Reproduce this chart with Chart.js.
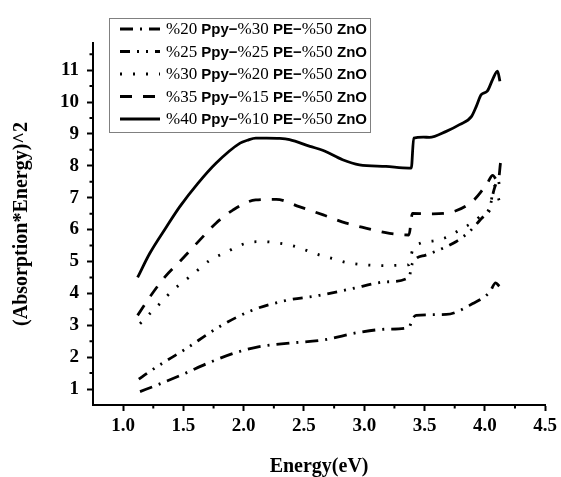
<!DOCTYPE html>
<html>
<head>
<meta charset="utf-8">
<script src="https://cdn.jsdelivr.net/npm/chart.js@4.4.1/dist/chart.umd.min.js"></script>
<style>
  body { margin: 0; background: #fff; }
  #wrap { width: 561px; height: 477px; }
</style>
</head>
<body>
<div id="wrap"><canvas id="bandGapChart" width="561" height="477"></canvas></div>
<script>
// series (energy in eV, (absorption*energy)^2)
const energy20 = [1.14, 1.29, 1.50, 1.72, 1.94, 2.13, 2.38, 2.66, 2.96, 3.20, 3.37, 3.40, 3.43, 3.68, 3.90, 4.04, 4.09, 4.12];
const abs20 = [0.92, 1.14, 1.47, 1.84, 2.15, 2.33, 2.44, 2.54, 2.78, 2.88, 2.93, 3.20, 3.31, 3.34, 3.68, 4.04, 4.33, 4.22];

const energy25 = [1.13, 1.22, 1.36, 1.52, 1.77, 2.05, 2.33, 2.63, 2.90, 3.18, 3.37, 3.40, 3.51, 3.60, 3.76, 3.87, 3.96, 4.04, 4.08, 4.11, 4.125];
const abs25 = [1.31, 1.55, 1.89, 2.26, 2.89, 3.44, 3.76, 3.94, 4.15, 4.36, 4.50, 4.95, 5.20, 5.33, 5.62, 5.93, 6.30, 6.70, 7.30, 7.55, 7.30];

const energy30 = [1.14, 1.22, 1.29, 1.37, 1.46, 1.57, 1.72, 1.86, 1.97, 2.11, 2.17, 2.30, 2.41, 2.52, 2.63, 2.74, 2.85, 2.96, 3.07, 3.18, 3.29, 3.37, 3.40, 3.47, 3.58, 3.69, 3.80, 3.91, 3.98, 4.04, 4.075, 4.12];
const abs30 = [3.05, 3.36, 3.62, 3.94, 4.25, 4.57, 5.04, 5.30, 5.51, 5.62, 5.62, 5.57, 5.49, 5.35, 5.20, 5.09, 4.97, 4.91, 4.88, 4.87, 4.88, 4.90, 5.35, 5.58, 5.65, 5.77, 6.01, 6.25, 6.46, 6.60, 7.35, 6.90];

const energy35 = [1.12, 1.22, 1.345, 1.48, 1.635, 1.77, 1.91, 2.10, 2.27, 2.46, 2.66, 2.85, 3.02, 3.21, 3.37, 3.40, 3.57, 3.76, 3.91, 4.02, 4.065, 4.11, 4.13];
const abs35 = [3.31, 3.88, 4.51, 5.04, 5.67, 6.20, 6.61, 6.93, 6.95, 6.72, 6.46, 6.20, 6.04, 5.88, 5.83, 6.51, 6.49, 6.59, 6.93, 7.45, 7.70, 7.50, 8.10];

const energy40 = [1.12, 1.22, 1.36, 1.47, 1.62, 1.77, 1.97, 2.03, 2.10, 2.19, 2.30, 2.38, 2.55, 2.66, 2.82, 2.96, 3.18, 3.37, 3.39, 3.41, 3.49, 3.54, 3.68, 3.79, 3.89, 3.93, 3.97, 4.02, 4.065, 4.105, 4.125];
const abs40 = [4.50, 5.25, 6.09, 6.72, 7.45, 8.08, 8.71, 8.80, 8.87, 8.87, 8.86, 8.82, 8.61, 8.48, 8.19, 8.03, 7.98, 7.93, 7.93, 8.87, 8.90, 8.89, 9.08, 9.29, 9.55, 9.87, 10.23, 10.34, 10.71, 10.97, 10.65];

const seriesLabels = [
  '%20 Ppy\u2212%30 PE\u2212%50 ZnO',
  '%25 Ppy\u2212%25 PE\u2212%50 ZnO',
  '%30 Ppy\u2212%20 PE\u2212%50 ZnO',
  '%35 Ppy\u2212%15 PE\u2212%50 ZnO',
  '%40 Ppy\u2212%10 PE\u2212%50 ZnO'
];

const xTickValues = [1.0, 1.5, 2.0, 2.5, 3.0, 3.5, 4.0, 4.5];
const yTickValues = [1, 2, 3, 4, 5, 6, 7, 8, 9, 10, 11];

function toPoints(xs, ys) {
  return xs.map((x, i) => ({ x: x, y: ys[i] }));
}

const dashes = [
  [13, 7, 2, 7],
  [10, 7, 2, 7, 2, 7],
  [2, 11],
  [12, 11],
  []
];
const allX = [energy20, energy25, energy30, energy35, energy40];
const allY = [abs20, abs25, abs30, abs35, abs40];

const datasets = seriesLabels.map((label, i) => ({
  label: label,
  data: toPoints(allX[i], allY[i]),
  borderColor: '#000',
  borderWidth: 2.8,
  borderDash: dashes[i],
  pointRadius: 0,
  fill: false,
  cubicInterpolationMode: 'monotone'
}));

// boxed legend sitting over the plot, plus the short minor ticks
const boxLegend = {
  id: 'boxLegend',
  afterDraw(chart) {
    const ctx = chart.ctx;
    ctx.save();
    ctx.strokeStyle = '#808080';
    ctx.lineWidth = 1;
    ctx.setLineDash([]);
    ctx.strokeRect(109.5, 18.5, 261, 114);

    chart.data.datasets.forEach((ds, i) => {
      const y = 29 + i * 22.5;
      ctx.strokeStyle = '#000';
      ctx.lineWidth = ds.borderWidth;
      ctx.setLineDash(ds.borderDash);
      ctx.beginPath();
      ctx.moveTo(120, y);
      ctx.lineTo(160, y);
      ctx.stroke();
      ctx.setLineDash([]);

      ctx.fillStyle = '#000';
      ctx.textBaseline = 'middle';
      ctx.textAlign = 'left';
      let x = 166;
      ds.label.split(/([%0-9]+)/).forEach(run => {
        if (!run) return;
        if (/^[%0-9]+$/.test(run)) {
          ctx.font = '17px "Liberation Serif"';
        } else {
          ctx.font = 'bold 15px "Liberation Sans"';
        }
        ctx.fillText(run, x, y + 1);
        x += ctx.measureText(run).width;
      });
    });

    // minor ticks
    const xs = chart.scales.x, ys = chart.scales.y;
    ctx.strokeStyle = '#000';
    ctx.lineWidth = 2;
    ctx.beginPath();
    for (let v = 1.5; v <= 11.5; v += 1) {
      const py = ys.getPixelForValue(v);
      ctx.moveTo(xs.left - 3.5, py);
      ctx.lineTo(xs.left, py);
    }
    for (let v = 1.25; v <= 4.25; v += 0.5) {
      const px = xs.getPixelForValue(v);
      ctx.moveTo(px, ys.bottom);
      ctx.lineTo(px, ys.bottom + 3.5);
    }
    ctx.stroke();
    ctx.restore();
  }
};

const ctx = document.getElementById('bandGapChart').getContext('2d');

const bandGapChart = new Chart(ctx, {
  type: 'line',
  data: { datasets: datasets },
  options: {
    responsive: false,
    animation: false,
    layout: { padding: { left: 0, right: 15, top: 43, bottom: 0 } },
    plugins: {
      legend: { display: false },
      tooltip: { enabled: false }
    },
    scales: {
      x: {
        type: 'linear',
        min: 0.75,
        max: 4.5,
        afterBuildTicks: scale => {
          scale.ticks = xTickValues.map(v => ({ value: v }));
        },
        afterFit: scale => { scale.height = 72; },
        grid: {
          drawOnChartArea: false,
          drawTicks: true,
          tickLength: 6,
          tickWidth: 2,
          tickColor: '#000'
        },
        border: { display: true, color: '#000', width: 2 },
        ticks: {
          color: '#000',
          padding: 4,
          maxRotation: 0,
          autoSkip: false,
          font: { family: 'Liberation Serif', size: 19, weight: 'bold' },
          callback: v => Number(v).toFixed(1)
        },
        title: {
          display: true,
          text: 'Energy(eV)',
          color: '#000',
          padding: { top: 0, bottom: 0 },
          font: { family: 'Liberation Serif', size: 20, weight: 'bold', lineHeight: 1 }
        }
      },
      y: {
        type: 'linear',
        min: 0.5,
        max: 11.85,
        afterBuildTicks: scale => {
          scale.ticks = yTickValues.map(v => ({ value: v }));
        },
        afterFit: scale => { scale.width = 93; },
        grid: {
          drawOnChartArea: false,
          drawTicks: true,
          tickLength: 6,
          tickWidth: 2,
          tickColor: '#000'
        },
        border: { display: true, color: '#000', width: 2 },
        ticks: {
          color: '#000',
          padding: 8,
          autoSkip: false,
          font: { family: 'Liberation Serif', size: 19, weight: 'bold' },
          callback: v => String(v)
        },
        title: {
          display: true,
          text: '(Absorption*Energy)^2',
          color: '#000',
          padding: { top: 10, bottom: 0 },
          font: { family: 'Liberation Serif', size: 20, weight: 'bold' }
        }
      }
    }
  },
  plugins: [boxLegend]
});
</script>
</body>
</html>
